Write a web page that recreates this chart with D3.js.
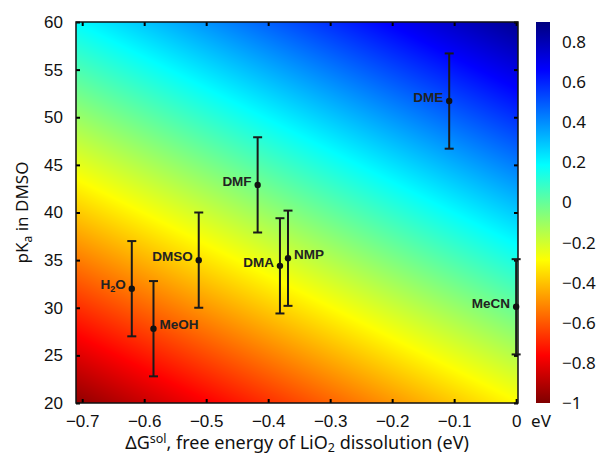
<!DOCTYPE html>
<html>
<head>
<meta charset="utf-8">
<script src="https://cdn.jsdelivr.net/npm/d3@7"></script>
<style>
  body { margin: 0; background: #fff; }
  svg { display: block; font-family: "Noto Sans", "Open Sans", sans-serif; }
</style>
</head>
<body>
<svg id="chart" width="601" height="459"></svg>
<script>
// solvent points
const solvents = ["H2O", "MeOH", "DMSO", "DMF", "DMA", "NMP", "DME", "MeCN"];
const dGsol = [-0.62, -0.585, -0.512, -0.417, -0.381, -0.368, -0.108, 0.0];
const pKa = [32.0, 27.8, 35.0, 42.9, 34.4, 35.2, 51.7, 30.1];
const pKaErr = [5, 5, 5, 5, 5, 5, 5, 5];

const xTicks = [-0.7, -0.6, -0.5, -0.4, -0.3, -0.2, -0.1, 0];
const yTicks = [20, 25, 30, 35, 40, 45, 50, 55, 60];
const cbTicks = [-1, -0.8, -0.6, -0.4, -0.2, 0, 0.2, 0.4, 0.6, 0.8];

// background surface: energy (eV) = a + b*dG + c*pKa
const surfA = -0.8755, surfB = 0.95, surfC = 0.029;

const rightLabels = new Set(["MeOH", "NMP"]);

const svg = d3.select("#chart");
const pLeft = 76, pTop = 22, pRight = 518, pBottom = 403;

const x = d3.scaleLinear().domain([-0.71, 0.003]).range([pLeft, pRight]);
const y = d3.scaleLinear().domain([20, 60]).range([pBottom, pTop]);
const cb = d3.scaleLinear().domain([-1, 0.9]).range([403, 22]);

// jet colormap, reversed (red = low, blue = high)
const jet = d3.scaleLinear()
  .domain([-1, -0.7625, -0.2875, 0.1875, 0.6625, 0.9])
  .range(["#7f0000", "#ff0000", "#ffff00", "#00ffff", "#0000ff", "#00007f"])
  .clamp(true);

// Fond dégradé -> canvas -> image
const w = pRight - pLeft, h = pBottom - pTop;
const canvas = document.createElement("canvas");
canvas.width = w; canvas.height = h;
const ctx = canvas.getContext("2d");
const img = ctx.createImageData(w, h);
for (let j = 0; j < h; j++) {
  const pk = y.invert(pTop + j + 0.5);
  for (let i = 0; i < w; i++) {
    const g = x.invert(pLeft + i + 0.5);
    const c = d3.rgb(jet(surfA + surfB * g + surfC * pk));
    const k = (j * w + i) * 4;
    img.data[k] = c.r; img.data[k + 1] = c.g; img.data[k + 2] = c.b; img.data[k + 3] = 255;
  }
}
ctx.putImageData(img, 0, 0);
svg.append("image")
  .attr("x", pLeft).attr("y", pTop)
  .attr("width", w).attr("height", h)
  .attr("preserveAspectRatio", "none")
  .attr("href", canvas.toDataURL());

// axes
const fmt = d => d === 0 ? "0" : d3.format(".1~f")(d);

svg.append("g")
  .attr("transform", `translate(0,${pBottom})`)
  .call(d3.axisBottom(x).tickValues(xTicks).tickSize(-4).tickPadding(12).tickFormat(fmt))
  .call(g => g.select(".domain").remove());
svg.append("g")
  .attr("transform", `translate(0,${pTop})`)
  .call(d3.axisTop(x).tickValues(xTicks).tickSize(-4).tickFormat(""))
  .call(g => g.select(".domain").remove());
svg.append("g")
  .attr("transform", `translate(${pLeft},0)`)
  .call(d3.axisLeft(y).tickValues(yTicks).tickSize(-4).tickPadding(13).tickFormat(d3.format("d")))
  .call(g => g.select(".domain").remove());
svg.append("g")
  .attr("transform", `translate(${pRight},0)`)
  .call(d3.axisRight(y).tickValues(yTicks).tickSize(-4).tickFormat(""))
  .call(g => g.select(".domain").remove());

svg.selectAll(".tick line").attr("stroke", "#000").attr("stroke-width", 2);
svg.selectAll(".tick text").attr("font-size", 17).attr("font-family", null).attr("fill", "#111");

svg.append("rect")
  .attr("x", pLeft).attr("y", pTop).attr("width", w).attr("height", h)
  .attr("fill", "none").attr("stroke", "#111").attr("stroke-width", 1.5);

// Barres d'erreur + points
const pts = solvents.map((s, i) => ({ s, g: dGsol[i], p: pKa[i], e: pKaErr[i] }));
const pg = svg.append("g").attr("stroke", "#1a1a1a").attr("stroke-width", 2);
pg.selectAll("line.bar").data(pts).join("line")
  .attr("x1", d => x(d.g)).attr("x2", d => x(d.g))
  .attr("y1", d => y(d.p - d.e)).attr("y2", d => y(d.p + d.e));
pg.selectAll("line.capt").data(pts).join("line")
  .attr("x1", d => x(d.g) - 4.5).attr("x2", d => x(d.g) + 4.5)
  .attr("y1", d => y(d.p + d.e)).attr("y2", d => y(d.p + d.e));
pg.selectAll("line.capb").data(pts).join("line")
  .attr("x1", d => x(d.g) - 4.5).attr("x2", d => x(d.g) + 4.5)
  .attr("y1", d => y(d.p - d.e)).attr("y2", d => y(d.p - d.e));
svg.append("g").selectAll("circle").data(pts).join("circle")
  .attr("cx", d => x(d.g)).attr("cy", d => y(d.p)).attr("r", 3.2)
  .attr("fill", "#111");

// labels
const lab = svg.append("g")
  .attr("font-family", "Liberation Sans, Arial, sans-serif")
  .attr("font-weight", "bold").attr("font-size", 13.5).attr("fill", "#222");
pts.forEach(d => {
  const isRight = rightLabels.has(d.s);
  const t = lab.append("text")
    .attr("x", x(d.g) + (isRight ? 6 : -6))
    .attr("y", y(d.p) - 4)
    .attr("dy", "0.35em")
    .attr("text-anchor", isRight ? "start" : "end");
  if (d.s === "H2O") {
    t.append("tspan").text("H");
    t.append("tspan").attr("font-size", 9).attr("dy", 3).text("2");
    t.append("tspan").attr("dy", -3).text("O");
  } else {
    t.text(d.s);
  }
});

// colorbar
const defs = svg.append("defs");
const grad = defs.append("linearGradient").attr("id", "cbgrad")
  .attr("x1", 0).attr("y1", 1).attr("x2", 0).attr("y2", 0);
jet.domain().forEach(v => {
  grad.append("stop")
    .attr("offset", (v - cb.domain()[0]) / (cb.domain()[1] - cb.domain()[0]))
    .attr("stop-color", jet(v));
});
svg.append("rect")
  .attr("x", 536).attr("y", cb.range()[1])
  .attr("width", 14).attr("height", cb.range()[0] - cb.range()[1])
  .attr("fill", "url(#cbgrad)");
svg.append("g").selectAll("text").data(cbTicks).join("text")
  .attr("x", 562).attr("y", d => cb(d)).attr("dy", "0.35em")
  .attr("font-size", 17).attr("fill", "#111")
  .text(fmt);
svg.append("text")
  .attr("x", 541).attr("y", pBottom + 12).attr("dy", "0.71em")
  .attr("text-anchor", "middle").attr("font-size", 17).attr("fill", "#111")
  .text("eV");

// titres
const xt = svg.append("text")
  .attr("x", (pLeft + pRight) / 2).attr("y", 449)
  .attr("text-anchor", "middle").attr("font-size", 18).attr("fill", "#111");
xt.append("tspan").text("ΔG");
xt.append("tspan").attr("font-size", 12.5).attr("dy", -6).text("sol");
xt.append("tspan").attr("dy", 6).text(", free energy of LiO");
xt.append("tspan").attr("font-size", 12.5).attr("dy", 3).text("2");
xt.append("tspan").attr("dy", -3).text(" dissolution (eV)");

const yt = svg.append("text")
  .attr("transform", `translate(28,${(pTop + pBottom) / 2}) rotate(-90)`)
  .attr("text-anchor", "middle").attr("font-size", 17).attr("fill", "#111");
yt.append("tspan").text("pK");
yt.append("tspan").attr("font-size", 12).attr("dy", 4).text("a");
yt.append("tspan").attr("dy", -4).text(" in DMSO");
</script>
</body>
</html>
